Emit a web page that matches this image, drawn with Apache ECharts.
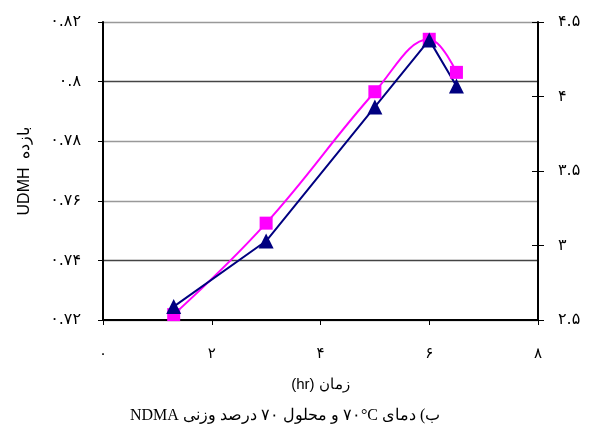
<!DOCTYPE html>
<html lang="fa" style="height: 100%">
<head>
    <meta charset="UTF-8">
    <title>UDMH</title>
    <script type="text/javascript" src="https://cdn.jsdelivr.net/npm/echarts@6/dist/echarts.min.js"></script>
</head>
<body style="height: 100%;margin: 0;background:#fff">

<div id="main" style="width:591px;height:430px"></div>

<script type="text/javascript">
    // زمان (hr)
    var timeHr = [1.3, 3, 5, 6, 6.5];
    // بازده UDMH (محور چپ)
    var yieldUdmh = [0.7218, 0.7525, 0.7966, 0.8142, 0.8031];
    // سری دوم (محور راست)
    var rightSeries = [2.59, 3.03, 3.93, 4.38, 4.07];

    var faDigits = '۰۱۲۳۴۵۶۷۸۹';
    function fa(v, d) {
        var s = String(+(+v).toFixed(d));
        return s.replace(/\d/g, function (c) { return faDigits[c]; });
    }

    function pairs(xs, ys) {
        var out = [];
        for (var i = 0; i < xs.length; i++) out.push([xs[i], ys[i]]);
        return out;
    }

    var RLE = '\u202B', LRE = '\u202A', PDF = '\u202C';
    var labelFont = 'DejaVu Sans';

    var chart = echarts.init(document.getElementById('main'));
    var option = {
        animation: false,
        grid: {left: 103, right: 53, top: 22, bottom: 110},
        xAxis: {
            type: 'value',
            min: 0, max: 8, interval: 2,
            name: RLE + 'زمان (hr)' + PDF,
            nameLocation: 'middle',
            nameGap: 57,
            nameTextStyle: {fontFamily: 'Liberation Sans', fontSize: 15, color: '#000'},
            axisLine: {lineStyle: {color: '#000', width: 2}},
            axisTick: {show: true, length: 5, lineStyle: {color: '#000'}},
            axisLabel: {
                margin: 27, fontSize: 15, color: '#000', fontFamily: labelFont,
                formatter: function (v) { return fa(v, 0); }
            },
            splitLine: {show: false}
        },
        yAxis: [
            {
                type: 'value',
                min: 0.72, max: 0.82, interval: 0.02,
                position: 'left',
                name: RLE + 'بازده  UDMH' + PDF,
                nameLocation: 'middle',
                nameRotate: 90,
                nameGap: 70,
                nameTextStyle: {fontFamily: 'Liberation Sans', fontSize: 16, color: '#000'},
                axisLine: {show: true, lineStyle: {color: '#000', width: 2}},
                axisTick: {show: true, length: 5, lineStyle: {color: '#000'}},
                axisLabel: {
                    margin: 22, fontSize: 16, color: '#000', fontFamily: labelFont,
                    formatter: function (v) { return fa(v, 2); }
                },
                splitLine: {
                    show: true,
                    lineStyle: {color: ['#999', '#444', '#999', '#999', '#444', '#999'], width: 1.4}
                }
            },
            {
                type: 'value',
                min: 2.5, max: 4.5, interval: 0.5,
                position: 'right',
                axisLine: {show: true, lineStyle: {color: '#000', width: 2}},
                axisTick: {show: true, inside: true, length: 6, lineStyle: {color: '#000'}},
                axisLabel: {
                    margin: 20, fontSize: 16, color: '#000', fontFamily: labelFont,
                    formatter: function (v) { return fa(v, 1); }
                },
                splitLine: {show: false}
            },
            {
                type: 'value',
                min: 2.5, max: 4.5, interval: 0.5,
                position: 'right',
                axisLine: {show: false},
                axisTick: {show: true, length: 6, lineStyle: {color: '#000'}},
                axisLabel: {show: false},
                splitLine: {show: false}
            }
        ],
        series: [
            {
                type: 'line',
                yAxisIndex: 0,
                data: pairs(timeHr, yieldUdmh),
                smooth: 0.4,
                symbol: 'rect',
                symbolSize: 13,
                clip: false,
                lineStyle: {color: '#ff00ff', width: 2},
                itemStyle: {color: '#ff00ff'}
            },
            {
                type: 'line',
                yAxisIndex: 1,
                data: pairs(timeHr, rightSeries),
                symbol: 'triangle',
                symbolSize: 15,
                clip: false,
                lineStyle: {color: '#000080', width: 2},
                itemStyle: {color: '#000080'}
            }
        ],
        graphic: [
            {
                type: 'text',
                left: 130,
                top: 408,
                style: {
                    text: RLE + 'ب) دمای ' + LRE + '۷۰°C' + PDF + ' و محلول ۷۰ درصد وزنی NDMA' + PDF,
                    font: '16px "Liberation Serif"',
                    fill: '#000'
                }
            }
        ]
    };
    chart.setOption(option);
</script>

</body>
</html>
